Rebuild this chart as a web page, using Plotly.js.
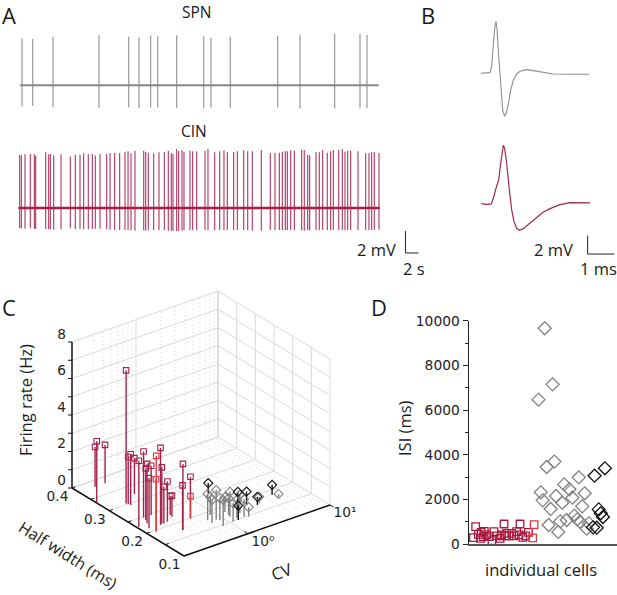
<!DOCTYPE html>
<html>
<head>
<meta charset="utf-8">
<script src="https://cdn.plot.ly/plotly-3.0.1.min.js"></script>
<style>html,body{margin:0;padding:0;background:#fff}</style>
</head>
<body>
<div id="fig" style="width:617px;height:595px"></div>
<script>
// A: spike times (s) and spike extremes (mV)
var spnTimes = [0.31,1.95,5.08,12.15,16.72,18.31,20.10,21.18,24.10,28.26,29.38,32.36,39.64,43.08,48.41,52.31,53.38];
var spnPeaks = [4.27,4.21,4.42,4.55,4.42,4.36,4.55,4.45,4.55,4.45,4.30,4.42,4.48,4.58,4.67,4.67,4.58];
var spnTroughs = [-1.91,-1.88,-2.0,-2.06,-2.0,-2.06,-2.03,-2.03,-2.06,-2.09,-2.03,-2.06,-2.03,-2.12,-2.12,-2.09,-2.09];
var cinTimes = [-0.05,0.21,0.77,1.59,2.21,2.41,3.95,4.41,4.67,5.18,6.31,7.74,8.51,9.23,9.79,10.51,11.13,11.59,12.31,13.33,13.85,14.56,15.33,16.15,16.62,17.08,17.69,19.03,19.33,19.74,20.56,21.38,22.21,22.82,23.28,23.54,24.10,24.41,24.92,25.23,26.15,26.56,27.18,28.46,28.92,29.95,30.72,31.38,31.90,32.87,33.44,34.41,35.03,35.74,37.13,38.51,39.23,39.90,40.36,40.82,41.13,41.64,42.21,43.33,43.74,44.26,44.56,45.54,46.05,46.56,47.28,47.79,48.21,49.03,49.59,50.00,50.41,50.87,52.00,53.18,53.69,54.10,54.51,55.23];
var cinPeaks = [4.85,4.79,4.88,4.91,4.88,4.73,5.06,4.88,4.91,4.79,4.88,4.67,4.85,4.85,4.97,4.88,4.91,4.76,4.91,4.91,5.0,5.0,5.0,5.09,5.15,4.97,5.21,5.21,5.09,5.03,4.97,5.06,5.09,5.21,5.0,4.88,5.33,5.18,5.24,5.12,5.21,5.15,5.15,5.21,5.36,5.06,5.15,5.24,5.06,5.09,5.15,5.24,5.15,5.15,5.27,5.0,5.0,5.03,5.12,5.15,5.15,5.24,5.21,5.30,5.27,4.85,4.79,5.09,5.06,5.27,5.03,5.15,5.27,5.27,5.33,5.12,5.21,5.21,5.15,4.97,5.0,5.06,5.09,5.0];
var cinTroughs = [-1.85,-1.85,-1.88,-1.85,-1.88,-1.91,-1.91,-1.94,-1.94,-1.97,-1.94,-1.85,-1.91,-1.91,-1.94,-1.94,-1.91,-1.88,-1.88,-1.94,-1.97,-1.97,-2.0,-2.0,-2.03,-2.03,-2.06,-2.03,-2.06,-2.03,-2.0,-2.0,-2.03,-2.06,-2.06,-2.09,-2.09,-2.06,-2.06,-2.03,-2.03,-2.03,-2.03,-2.0,-2.03,-2.03,-2.0,-2.03,-2.0,-2.03,-2.0,-2.0,-2.03,-2.06,-2.06,-2.0,-2.0,-2.0,-2.0,-2.03,-2.03,-2.0,-2.03,-2.03,-2.06,-2.03,-2.03,-2.0,-2.03,-2.0,-2.0,-2.03,-2.0,-2.0,-2.0,-2.03,-2.0,-2.0,-2.0,-2.0,-2.0,-2.0,-1.97,-1.97];

// B: mean waveforms
var spnWaveT = [0,0.22,0.35,0.41,0.475,0.525,0.575,0.61,0.66,0.71,0.76,0.825,0.90,0.96,1.04,1.125,1.225,1.35,1.475,1.725,1.975,2.35,2.725,3.35,4.06];
var spnWaveV = [0,0,0.07,0.73,3.27,4.91,5.67,4.91,2.55,0.18,-2.18,-4.0,-4.69,-4.36,-3.27,-1.82,-0.73,-0.07,0.22,0.40,0.29,0.07,-0.07,-0.11,-0.11];
var cinWaveT = [0.025,0.225,0.40,0.475,0.575,0.675,0.75,0.8125,0.85,0.90,0.975,1.075,1.1625,1.25,1.35,1.45,1.6,1.85,2.1,2.35,2.6,2.975,3.35,3.725,4.1];
var cinWaveV = [0.04,-0.04,0,0.62,1.71,2.62,4.44,6.04,6.4,6.04,4.44,1.53,-0.65,-1.93,-2.65,-2.87,-2.69,-2.07,-1.42,-0.87,-0.51,-0.07,0.15,0.15,0.11];

// C: CV, half width (ms), firing rate (Hz)
var cinCv = [0.26,0.17,0.344,0.277,0.282,0.287,0.423,0.175,0.249,0.241,0.225,0.308,0.201,0.272,0.291,0.302,0.337,0.431,0.425,0.35,0.346,0.561];
var cinHw = [0.381,0.336,0.381,0.304,0.300,0.295,0.322,0.226,0.247,0.238,0.228,0.247,0.212,0.210,0.213,0.211,0.212,0.228,0.222,0.174,0.174,0.199];
var cinFr = [2.18,3.34,2.10,7.29,2.58,2.78,1.97,3.62,3.62,2.83,3.25,2.70,2.74,4.22,3.07,2.01,2.21,1.04,1.15,3.62,2.45,2.28];
var cinRedCv = [0.206,0.216,0.561];
var cinRedHw = [0.195,0.200,0.199];
var cinRedFr = [4.16,2.78,1.22];
var spnCv = [0.73,0.863,0.906,0.807,1.19,1.22,1.09,1.53,1.67,2.98,5.02,0.88,0.72,1.25,1.30,1.59];
var spnHw = [0.178,0.171,0.166,0.146,0.165,0.171,0.148,0.151,0.147,0.174,0.172,0.189,0.165,0.183,0.155,0.166];
var spnFr = [1.42,1.61,1.19,1.42,1.37,0.92,1.01,0.95,0.52,0.36,0.18,0.99,1.26,0.82,0.99,0.99];
var spnBlackCv = [1.61,1.67,2.27,1.26,2.74,4.80];
var spnBlackHw = [0.252,0.176,0.182,0.148,0.171,0.185];
var spnBlackFr = [0.56,1.0,0.73,0.78,0.45,0.55];

// C: axis limits and grid values
var cvLimits = [0.166, 10];
var hwLimits = [0.1, 0.4];
var frLimits = [0, 8];
var cvMinor = [0.2,0.3,0.4,0.5,0.6,0.7,0.8,0.9,2,3,4,5,6,7,8,9];
var hwGrid = [0.1,0.15,0.2,0.25,0.3,0.35,0.4];
var frGrid = [0,1,2,3,4,5,6,7,8];
var hwLabels = [0.1,0.2,0.3,0.4];
var frLabels = [0,2,4,6,8];

// D: ISI per cell
var isiGreyX = [30.7,33.9,28.2,34.6,31.5,29.1,29.9,35.3,38.6,40.7,41.9,37.8,44.5,46.9,45.9,33.1,32.3,37.0,36.2,39.6,42.7,43.9,45.0,47.7,48.6];
var isiGreyY = [9660,7150,6465,3690,3450,2315,1955,2150,2670,2450,2075,1850,2985,2270,1685,1570,850,1015,540,1075,1270,1105,1000,685,925];
var isiBlackX = [50.9,55.1,52.6,53.4,54.3,50.3,51.8];
var isiBlackY = [3060,3390,1550,1375,1210,745,730];
var isiCinX = [2.7,1.8,3.8,4.9,6.2,4.7,7.2,8.2,9.3,10.1,11.2,12.6,14.2,15.3,16.2,17.3,18.2,19.3,20.7,21.8,23,24.1,20.3,13.2,14.6,5.8];
var isiCinY = [775,285,435,525,565,255,405,330,150,550,360,255,895,480,360,480,360,550,895,300,360,525,405,405,360,330];
var isiRedX = [26.4,25.8];
var isiRedY = [865,270];

var W = 617, H = 595;
var CRIMSON = '#a3224a', RED = '#e8343c', GREY = '#808080', BLACK = '#111111';
var GRID = '#dadada', DOTS = '#cccccc';

function px(x) { return x / W; }
function py(y) { return 1 - y / H; }

// the box of panel C as seen from its corner, one unit on x6/y6 is one pixel
function projX(cv, hw, fr)
{
    var c = (Math.log10(cv) - Math.log10(cvLimits[0])) / (Math.log10(cvLimits[1]) - Math.log10(cvLimits[0]));
    var h = (hw - hwLimits[0]) / (hwLimits[1] - hwLimits[0]);
    return 146 * c - 112 * h;
}

function projY(cv, hw, fr)
{
    var c = (Math.log10(cv) - Math.log10(cvLimits[0])) / (Math.log10(cvLimits[1]) - Math.log10(cvLimits[0]));
    var h = (hw - hwLimits[0]) / (hwLimits[1] - hwLimits[0]);
    return 51 * c + 68 * h + 146 * fr / frLimits[1];
}

function spikes(times, tops, bottoms)
{
    var x = [], y = [];
    for (let i = 0; i < times.length; i++) {
        x.push(times[i], times[i], null);
        y.push(tops[i], bottoms[i], null);
    }
    return {x: x, y: y};
}

function line2d(x, y, color, width, xa, ya)
{
    return {type: 'scatter', mode: 'lines', x: x, y: y, xaxis: xa, yaxis: ya,
            line: {color: color, width: width}, hoverinfo: 'skip'};
}

// segs is a list of [cv0, hw0, fr0, cv1, hw1, fr1]
function boxLines(segs, color, width, dash)
{
    var x = [], y = [];
    for (let i = 0; i < segs.length; i++) {
        var s = segs[i];
        x.push(projX(s[0], s[1], s[2]), projX(s[3], s[4], s[5]), null);
        y.push(projY(s[0], s[1], s[2]), projY(s[3], s[4], s[5]), null);
    }
    var t = line2d(x, y, color, width, 'x6', 'y6');
    t.line.dash = dash || 'solid';
    return t;
}

function boxTicks(list, dx, dy)
{
    var x = [], y = [];
    for (let i = 0; i < list.length; i++) {
        var p = list[i];
        x.push(projX(p[0], p[1], p[2]), projX(p[0], p[1], p[2]) + dx, null);
        y.push(projY(p[0], p[1], p[2]), projY(p[0], p[1], p[2]) + dy, null);
    }
    return line2d(x, y, '#111', 1, 'x6', 'y6');
}

function boxText(list, texts, dx, dy)
{
    return {type: 'scatter', mode: 'text', xaxis: 'x6', yaxis: 'y6', cliponaxis: false,
            x: list.map(function(p) { return projX(p[0], p[1], p[2]) + dx; }),
            y: list.map(function(p) { return projY(p[0], p[1], p[2]) + dy; }),
            text: texts, textposition: 'middle center', hoverinfo: 'skip',
            textfont: {family: 'DejaVu Sans', size: 13.7, color: '#222'}};
}

function stems3d(cv, hw, fr, color)
{
    var segs = [];
    for (let i = 0; i < cv.length; i++)
        segs.push([cv[i], hw[i], 0, cv[i], hw[i], fr[i]]);
    return boxLines(segs, color, 1.4);
}

function marks3d(cv, hw, fr, color, symbol, size)
{
    return {type: 'scatter', mode: 'markers', xaxis: 'x6', yaxis: 'y6', hoverinfo: 'skip',
            x: cv.map(function(c, i) { return projX(c, hw[i], fr[i]); }),
            y: cv.map(function(c, i) { return projY(c, hw[i], fr[i]); }),
            marker: {color: color, symbol: symbol, size: size, line: {color: color, width: 1.1}}};
}

function marks2d(x, y, color, symbol, size)
{
    return {type: 'scatter', mode: 'markers', x: x, y: y, xaxis: 'x5', yaxis: 'y5', cliponaxis: false,
            marker: {color: color, symbol: symbol, size: size, line: {color: color, width: 1.3}},
            hoverinfo: 'skip'};
}

var cvLo = cvLimits[0], cvHi = cvLimits[1], hwLo = hwLimits[0], hwHi = hwLimits[1], frHi = frLimits[1];

var gridSegs = [[1, hwHi, 0, 1, hwHi, frHi], [1, hwLo, 0, 1, hwHi, 0]];
frGrid.forEach(function(f) {
    gridSegs.push([cvLo, hwHi, f, cvHi, hwHi, f]);
    gridSegs.push([cvHi, hwLo, f, cvHi, hwHi, f]);
});
hwGrid.forEach(function(w) {
    gridSegs.push([cvHi, w, 0, cvHi, w, frHi]);
    gridSegs.push([cvLo, w, 0, cvHi, w, 0]);
});
var dotSegs = [];
cvMinor.forEach(function(c) {
    dotSegs.push([c, hwHi, 0, c, hwHi, frHi]);
    dotSegs.push([c, hwLo, 0, c, hwHi, 0]);
});
var edgeSegs = [[cvHi, hwHi, 0, cvHi, hwHi, frHi]];
var axisSegs = [[cvLo, hwLo, 0, cvHi, hwLo, 0], [cvLo, hwLo, 0, cvLo, hwHi, 0], [cvLo, hwHi, 0, cvLo, hwHi, frHi]];

var spn = spikes(spnTimes, spnPeaks, spnTroughs);
var cin = spikes(cinTimes, cinPeaks, cinTroughs);

var traces = [
    line2d(spn.x, spn.y, '#a0a0a0', 1.3, 'x', 'y'),
    line2d([0, 55.2], [0, 0], '#868686', 2.2, 'x', 'y'),
    line2d(cin.x, cin.y, '#b5466a', 1.2, 'x2', 'y2'),
    line2d([-0.25, 55.35], [0, 0], '#a81c45', 2.4, 'x2', 'y2'),
    line2d([59.3, 59.3, 61.3], [-2.09, -4.09, -4.09], '#222', 1, 'x2', 'y2'),
    line2d(spnWaveT, spnWaveV, '#8d8d8d', 1.1, 'x3', 'y3'),
    line2d(cinWaveT, cinWaveV, '#a3274f', 1.2, 'x4', 'y4'),
    line2d([4.01, 4.01, 5.01], [-3.46, -5.46, -5.46], '#222', 1, 'x4', 'y4'),
    boxLines(dotSegs, DOTS, 0.8, '1px,3px'),
    boxLines(gridSegs, GRID, 1),
    boxLines(edgeSegs, '#cfcfcf', 1),
    boxLines(axisSegs, '#111', 1.5),
    boxTicks(frGrid.map(function(f) { return [cvLo, hwHi, f]; }), -4, 0),
    boxTicks(hwGrid.map(function(w) { return [cvLo, w, 0]; }), 3.4, 1.2),
    boxTicks([[1, hwLo, 0]], -3.4, 2),
    boxTicks([[cvHi, hwLo, 0]], 3.4, -2),
    boxText(frLabels.map(function(f) { return [cvLo, hwHi, f]; }), ['0', '2', '4', '6', '8'], -10.5, 6.5),
    boxText(hwLabels.map(function(w) { return [cvLo, w, 0]; }), ['0.1', '0.2', '0.3', '0.4'], -14.5, -9.5),
    boxText([[1, hwLo, 0], [cvHi, hwLo, 0]], ['10\u2070', '10\u00b9'], 15, -8.5),
    stems3d(spnCv, spnHw, spnFr, GREY),
    stems3d(spnBlackCv, spnBlackHw, spnBlackFr, BLACK),
    stems3d(cinCv, cinHw, cinFr, CRIMSON),
    stems3d(cinRedCv, cinRedHw, cinRedFr, RED),
    marks3d(spnCv, spnHw, spnFr, GREY, 'diamond-open', 7),
    marks3d(spnBlackCv, spnBlackHw, spnBlackFr, BLACK, 'diamond-open', 7),
    marks3d(cinCv, cinHw, cinFr, CRIMSON, 'square-open', 5.5),
    marks3d(cinRedCv, cinRedHw, cinRedFr, RED, 'square-open', 5.5),
    marks2d(isiGreyX, isiGreyY, GREY, 'diamond-open', 10),
    marks2d(isiBlackX, isiBlackY, BLACK, 'diamond-open', 10),
    marks2d(isiCinX, isiCinY, '#a8183f', 'square-open', 7.5),
    marks2d(isiRedX, isiRedY, RED, 'square-open', 7.5)
];

function hidden(range, left, right, anchor)
{
    return {domain: [px(left), px(right)], range: range, visible: false, anchor: anchor, fixedrange: true};
}
function hiddenY(range, top, bottom, anchor)
{
    return {domain: [py(bottom), py(top)], range: range, visible: false, anchor: anchor, fixedrange: true};
}

function note(text, x, y, size, family, angle, color)
{
    return {text: text, x: px(x), y: py(y), xref: 'paper', yref: 'paper', showarrow: false,
            xanchor: 'center', yanchor: 'middle', textangle: angle || 0,
            font: {size: size, family: family || 'Open Sans', color: color || '#1a1a1a'}};
}

function letter(text, x, y)
{
    var n = note(text, x, y, 22);
    n.xanchor = 'left';
    return n;
}

var layout = {
    width: W, height: H, margin: {l: 0, r: 0, t: 0, b: 0}, showlegend: false,
    paper_bgcolor: '#fff', plot_bgcolor: 'rgba(0,0,0,0)', hovermode: false,
    xaxis: hidden([-1.54, 62.31], 10, 425, 'y'),
    yaxis: hiddenY([-4.75, 7.75], 0, 137.5, 'x'),
    xaxis2: hidden([-1.54, 62.31], 10, 425, 'y2'),
    yaxis2: hiddenY([-4.73, 6.18], 140, 260, 'x2'),
    xaxis3: hidden([-0.4, 5.11], 470, 617, 'y3'),
    yaxis3: hiddenY([-6.18, 6.9], 10, 130, 'x3'),
    xaxis4: hidden([-0.4, 5.11], 470, 617, 'y4'),
    yaxis4: hiddenY([-7.2, 7.52], 135, 270, 'x4'),
    xaxis5: {domain: [px(469), 1], range: [0, 60], anchor: 'y5', showticklabels: false, ticks: '',
             showgrid: false, zeroline: false, showline: true, linecolor: '#555', linewidth: 2, fixedrange: true},
    yaxis5: {domain: [py(544), py(320.7)], range: [0, 10000], anchor: 'x5', tickvals: [0, 2000, 4000, 6000, 8000, 10000],
             tickformat: 'd', ticks: 'outside', ticklen: 5, tickcolor: '#222', showgrid: false, zeroline: false,
             showline: true, linecolor: '#222', linewidth: 1.5, fixedrange: true,
             tickfont: {family: 'DejaVu Sans', size: 13.8, color: '#222'},
             minor: {tickvals: [1000, 3000, 5000, 7000, 9000], ticks: 'outside', ticklen: 3, tickcolor: '#222'}},
    xaxis6: hidden([-184, 218], 0, 402, 'y6'),
    yaxis6: hiddenY([-34, 271], 285, 590, 'x6'),
    annotations: [
        letter('A', 0, 15), letter('B', 419, 15), letter('C', 0, 307), letter('D', 369, 307),
        note('SPN', 197, 12, 15.5), note('CIN', 194, 131, 15.5),
        note('2 mV', 376, 249, 16.5), note('2 s', 414, 268, 16.5),
        note('2 mV', 553, 249, 16.5), note('1 ms', 598, 268, 16.5),
        note('Firing rate (Hz)', 25, 400, 16.5, 'Open Sans', -90),
        note('Half width (ms)', 68, 555, 16, 'Open Sans', 32),
        note('CV', 281, 571, 16.5, 'Open Sans', -20),
        note('ISI (ms)', 404, 428, 16.5, 'Open Sans', -90),
        note('individual cells', 541, 569, 16.5)
    ]
};

Plotly.newPlot('fig', traces, layout, {displayModeBar: false, staticPlot: true});
</script>
</body>
</html>
